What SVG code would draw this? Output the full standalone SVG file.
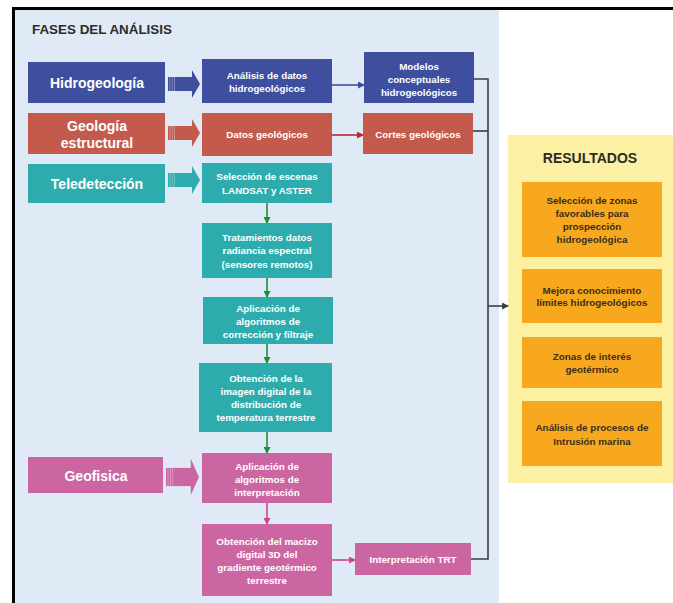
<svg xmlns="http://www.w3.org/2000/svg" xmlns:xlink="http://www.w3.org/1999/xlink" width="673" height="603" viewBox="0 0 673 603">
<style>
.t{font-family:"Liberation Sans",Arial,sans-serif;font-weight:bold;text-anchor:middle}
.big{font-size:14px;fill:#fff}
.sm{font-size:9.8px;fill:#fff}
.res{font-size:9.9px;fill:#3a2e18}
.hd{font-size:14px;fill:#2b2b2b;font-family:"Liberation Sans",Arial,sans-serif;font-weight:bold}
.blue{fill:#3e4f9f}
.red{fill:#c45a4c}
.teal{fill:#2eacad}
.pink{fill:#cc66a3}
.org{fill:#f7a81e}
.cn{fill:none;stroke-width:1.6}
.stripe{fill:#fff;opacity:0.35}
</style>
<defs>
<g id="bigArrow">
<rect x="0" y="-7" width="25" height="14"/>
<rect class="stripe" x="1.5" y="-7" width="0.9" height="14"/>
<rect class="stripe" x="3.8" y="-7" width="0.9" height="14"/>
<rect class="stripe" x="6.1" y="-7" width="0.9" height="14"/>
<polygon points="24,-14 32,0 24,14"/>
</g>
<marker id="mB" markerWidth="7" markerHeight="7" refX="6" refY="3.5" orient="auto" markerUnits="userSpaceOnUse"><path d="M0,0 L7,3.5 L0,7 Z" fill="#3e4f9f"/></marker>
<marker id="mR" markerWidth="7" markerHeight="7" refX="6" refY="3.5" orient="auto" markerUnits="userSpaceOnUse"><path d="M0,0 L7,3.5 L0,7 Z" fill="#c0272d"/></marker>
<marker id="mG" markerWidth="7" markerHeight="7" refX="6" refY="3.5" orient="auto" markerUnits="userSpaceOnUse"><path d="M0,0 L7,3.5 L0,7 Z" fill="#17903a"/></marker>
<marker id="mP" markerWidth="7" markerHeight="7" refX="6" refY="3.5" orient="auto" markerUnits="userSpaceOnUse"><path d="M0,0 L7,3.5 L0,7 Z" fill="#d4408c"/></marker>
<marker id="mK" markerWidth="7" markerHeight="7" refX="6" refY="3.5" orient="auto" markerUnits="userSpaceOnUse"><path d="M0,0 L7,3.5 L0,7 Z" fill="#3a3f48"/></marker>
</defs>
<rect width="673" height="603" fill="#fff"/>
<rect x="15" y="10" width="484" height="593" fill="#dfeaf6"/>
<rect x="12" y="7" width="661" height="3" fill="#000"/>
<rect x="12" y="7" width="3" height="596" fill="#000"/>
<text class="hd" x="32" y="34" style="font-size:13.4px">FASES DEL ANÁLISIS</text>
<rect x="508" y="135" width="165" height="348" fill="#fcf0a2"/>
<text class="hd" x="590" y="163" text-anchor="middle">RESULTADOS</text>

<g id="connectors">
<line class="cn" x1="332" y1="85" x2="364" y2="85" stroke="#3e4f9f" marker-end="url(#mB)"/>
<line class="cn" x1="332" y1="135" x2="363" y2="135" stroke="#c0272d" marker-end="url(#mR)"/>
<line class="cn" x1="267" y1="203" x2="267" y2="223" stroke="#17903a" marker-end="url(#mG)"/>
<line class="cn" x1="267" y1="278" x2="267" y2="297" stroke="#17903a" marker-end="url(#mG)"/>
<line class="cn" x1="267" y1="344" x2="267" y2="363" stroke="#17903a" marker-end="url(#mG)"/>
<line class="cn" x1="267" y1="432" x2="267" y2="453" stroke="#17903a" marker-end="url(#mG)"/>
<line class="cn" x1="267" y1="503" x2="267" y2="524" stroke="#d4408c" marker-end="url(#mP)"/>
<line class="cn" x1="332" y1="560" x2="355" y2="560" stroke="#d4408c" marker-end="url(#mP)"/>
<path class="cn" d="M474,79 H488 V559 H471" stroke="#3a3f48"/>
<path class="cn" d="M473,131 H488" stroke="#3a3f48"/>
<line class="cn" x1="488" y1="306" x2="508" y2="306" stroke="#3a3f48" marker-end="url(#mK)"/>
<use xlink:href="#bigArrow" transform="translate(168,84)" class="blue"/>
<use xlink:href="#bigArrow" transform="translate(168,133)" class="red"/>
<use xlink:href="#bigArrow" transform="translate(168,180)" class="teal"/>
<use xlink:href="#bigArrow" transform="translate(166,477) scale(1.03,1.3)" class="pink"/>
</g>

<g id="hidrogeologia"><rect class="blue" x="28" y="62" width="137" height="41"/><text class="t big" x="97" y="88">Hidrogeología</text></g>
<g id="geologia"><rect class="red" x="28" y="113" width="137" height="41"/><text class="t big" x="97" y="131">Geología</text><text class="t big" x="97" y="148">estructural</text></g>
<g id="teledeteccion"><rect class="teal" x="28" y="164" width="137" height="39"/><text class="t big" x="97" y="189">Teledetección</text></g>
<g id="geofisica"><rect class="pink" x="28" y="457" width="135" height="36"/><text class="t big" x="96" y="481">Geofisica</text></g>

<g id="analisis"><rect class="blue" x="202" y="59" width="130" height="44"/><text class="t sm" x="267" y="79">Análisis de datos</text><text class="t sm" x="267" y="92">hidrogeológicos</text></g>
<g id="datos-geo"><rect class="red" x="202" y="113" width="130" height="43"/><text class="t sm" x="267" y="138">Datos geológicos</text></g>
<g id="seleccion"><rect class="teal" x="202" y="163" width="130" height="40"/><text class="t sm" x="267" y="180">Selección de escenas</text><text class="t sm" x="267" y="194">LANDSAT y ASTER</text></g>
<g id="tratamientos"><rect class="teal" x="202" y="223" width="130" height="55"/><text class="t sm" x="267" y="241">Tratamientos datos</text><text class="t sm" x="267" y="254">radiancia espectral</text><text class="t sm" x="267" y="268">(sensores remotos)</text></g>
<g id="aplicacion-corr"><rect class="teal" x="203" y="297" width="130" height="47"/><text class="t sm" x="268" y="312">Aplicación de</text><text class="t sm" x="268" y="325">algoritmos de</text><text class="t sm" x="268" y="338">corrección y filtraje</text></g>
<g id="obtencion-imagen"><rect class="teal" x="199" y="363" width="133" height="69"/><text class="t sm" x="266" y="382">Obtención de la</text><text class="t sm" x="266" y="395">imagen digital de la</text><text class="t sm" x="266" y="408">distribución de</text><text class="t sm" x="266" y="421">temperatura terrestre</text></g>
<g id="aplicacion-interp"><rect class="pink" x="202" y="453" width="130" height="50"/><text class="t sm" x="267" y="470">Aplicación de</text><text class="t sm" x="267" y="483">algoritmos de</text><text class="t sm" x="267" y="496">interpretación</text></g>
<g id="obtencion-macizo"><rect class="pink" x="202" y="524" width="130" height="72"/><text class="t sm" x="267" y="545">Obtención del macizo</text><text class="t sm" x="267" y="558">digital 3D del</text><text class="t sm" x="267" y="571">gradiente geotérmico</text><text class="t sm" x="267" y="584">terrestre</text></g>
<g id="trt"><rect class="pink" x="355" y="543" width="116" height="32"/><text class="t sm" x="413" y="563">Interpretación TRT</text></g>
<g id="modelos"><rect class="blue" x="364" y="52" width="110" height="51"/><text class="t sm" x="419" y="70">Modelos</text><text class="t sm" x="419" y="83">conceptuales</text><text class="t sm" x="419" y="96">hidrogeológicos</text></g>
<g id="cortes"><rect class="red" x="363" y="113" width="110" height="41"/><text class="t sm" x="418" y="138">Cortes geológicos</text></g>

<g id="res1"><rect class="org" x="522" y="182" width="140" height="75"/><text class="t res" x="592" y="204">Selección de zonas</text><text class="t res" x="592" y="217">favorables para</text><text class="t res" x="592" y="230">prospección</text><text class="t res" x="592" y="243">hidrogeológica</text></g>
<g id="res2"><rect class="org" x="522" y="269" width="140" height="54"/><text class="t res" x="592" y="294">Mejora conocimiento</text><text class="t res" x="592" y="306">límites hidrogeológicos</text></g>
<g id="res3"><rect class="org" x="522" y="337" width="140" height="51"/><text class="t res" x="592" y="360">Zonas de interés</text><text class="t res" x="592" y="373">geotérmico</text></g>
<g id="res4"><rect class="org" x="522" y="401" width="140" height="65"/><text class="t res" x="592" y="431">Análisis de procesos de</text><text class="t res" x="592" y="445">Intrusión marina</text></g>
</svg>
